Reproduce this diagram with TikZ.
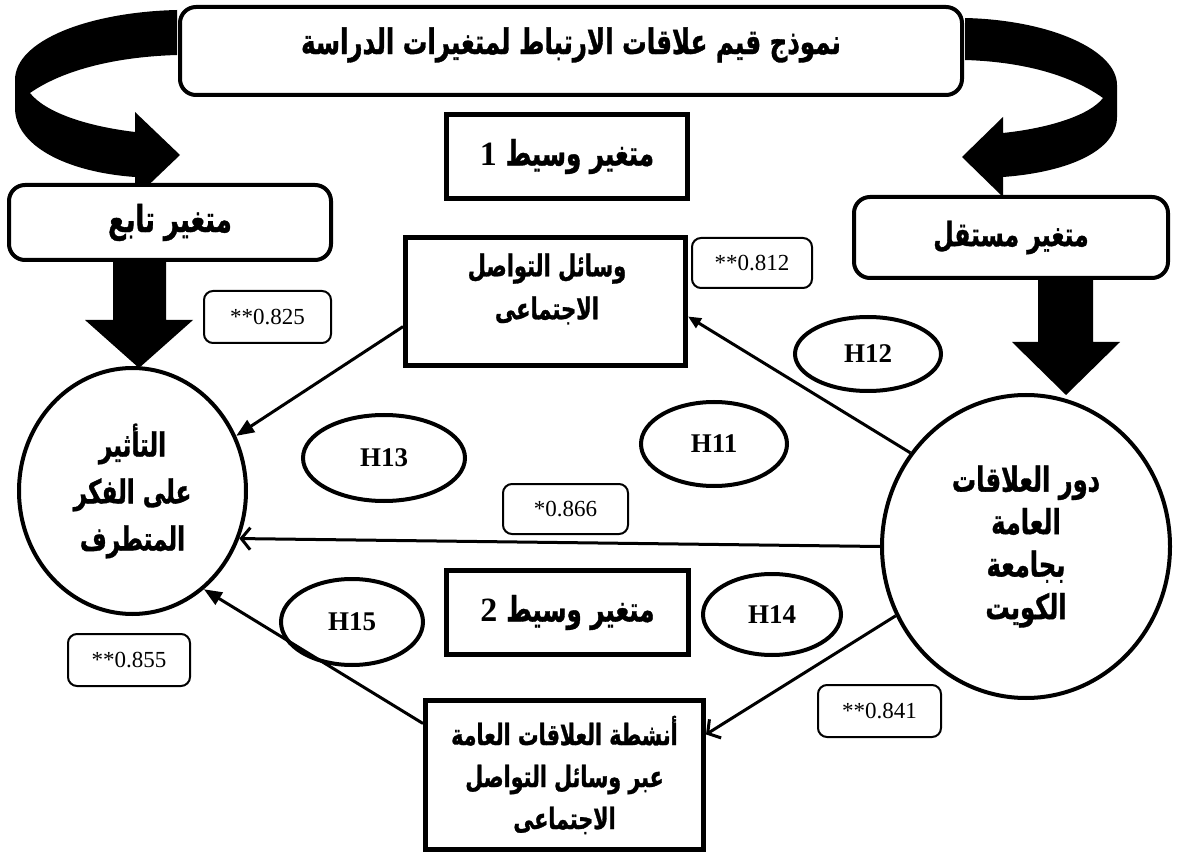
\documentclass[tikz,border=0pt]{standalone}
\usepackage{fontspec}
\setmainfont{Liberation Serif}
\newfontfamily\arabicfont[Script=Arabic,FakeStretch=0.70,BoldFeatures={FakeBold=1}]{DejaVu Sans}
\TeXXeTstate=1
\usetikzlibrary{arrows.meta,shapes.geometric}
\newcommand{\ar}[1]{{\arabicfont\bfseries\beginR #1\endR}}
\newcommand{\dg}[1]{{\fontsize{34}{34}\selectfont\bfseries #1}}
\newcommand{\fs}[2]{\fontsize{#1}{#2}\selectfont}
\begin{document}
\begin{tikzpicture}[x=1pt,y=-1pt,
  rbox/.style={draw, line width=4pt, rounded corners=16pt, fill=white, inner sep=0pt},
  sbox/.style={draw, line width=5pt, fill=white, inner sep=0pt, align=center},
  nbox/.style={draw, line width=2pt, rounded corners=9pt, fill=white, inner sep=0pt, font=\fs{23}{26}},
  hyp/.style={draw, ellipse, line width=4pt, fill=white, inner sep=0pt, font=\fs{27}{30}\bfseries},
  circ/.style={draw, ellipse, line width=4pt, fill=white, inner sep=0pt, align=center},
  lbl/.style={inner sep=0pt, align=center},
  link/.style={line width=3pt},
  fhead/.style={-{Triangle[length=18pt,width=14pt]}},
  shead/.style={-{Triangle[length=13pt,width=11pt]}},
  ohead/.style={-{Straight Barb[length=9pt,width=22pt]}}
]
\useasboundingbox (0,0) rectangle (1181,858);

% curved arrows
\fill (177,10) .. controls (90,12) and (15,40) .. (15,80) -- (15,108)
  .. controls (15,145) and (65,172) .. (135,177) -- (135,198) -- (180,155) -- (135,112) -- (135,132)
  .. controls (85,126) and (45,112) .. (30,93) .. controls (60,72) and (110,57) .. (177,55) -- cycle;
\fill (965,18) .. controls (1050,20) and (1117,50) .. (1117,85) -- (1117,117)
  .. controls (1117,150) and (1070,172) .. (1003,177) -- (1003,197) -- (962,157) -- (1003,117) -- (1003,133)
  .. controls (1050,128) and (1090,115) .. (1103,98) .. controls (1075,78) and (1030,62) .. (965,60) -- cycle;

% thick down arrows
\fill (113,258) -- (166,258) -- (166,320) -- (193,320) -- (139,368) -- (85,320) -- (113,320) -- cycle;
\fill (1038,276) -- (1093,276) -- (1093,342) -- (1120,342) -- (1066,395) -- (1012,342) -- (1038,342) -- cycle;

% boxes
\node[rbox, minimum width=782pt, minimum height=88pt] (top) at (571,51) {};
\node[lbl, font=\fs{35}{38}] (toptext) at (571,45) {\ar{نموذج قيم علاقات الارتباط لمتغيرات الدراسة}};
\node[sbox, minimum width=241pt, minimum height=84pt, font=\fs{35}{38}] (vas1) at (567,156.5) {\dg{1}\ \ar{متغير وسيط}};
\node[rbox, minimum width=322pt, minimum height=75pt, font=\fs{37}{40}] (tabe) at (170,222.5) {\ar{متغير تابع}};
\node[rbox, minimum width=314pt, minimum height=81pt, font=\fs{33.5}{36}] (mustaqil) at (1011,237.5) {\ar{متغير مستقل}};

\node[sbox, minimum width=280pt, minimum height=128pt] (wasail) at (545.5,301.5) {};
\node[lbl, font=\fs{30}{43}] (wasailtext) at (547,289) {\ar{وسائل التواصل}\\\ar{الاجتماعى}};

\node[nbox, minimum width=120pt, minimum height=50pt] (n812) at (752,263) {**0.812};
\node[nbox, minimum width=127pt, minimum height=52pt] (n825) at (267.5,317) {**0.825};
\node[nbox, minimum width=125pt, minimum height=50pt] (n866) at (565.5,509) {*0.866};
\node[nbox, minimum width=122pt, minimum height=52pt] (n855) at (129,660) {**0.855};
\node[nbox, minimum width=123pt, minimum height=52pt] (n841) at (879.5,711) {**0.841};

\node[hyp, minimum width=146pt, minimum height=74pt] (H12) at (868,354) {H12};
\node[hyp, minimum width=146pt, minimum height=84pt] (H11) at (714,444) {H11};
\node[hyp, minimum width=162pt, minimum height=86pt] (H13) at (384,458) {H13};
\node[hyp, minimum width=142pt, minimum height=86pt] (H15) at (352,622) {H15};
\node[hyp, minimum width=138pt, minimum height=81pt] (H14) at (772,614.5) {H14};

\node[sbox, minimum width=242pt, minimum height=84pt, font=\fs{35}{38}] (vas2) at (567.5,612.5) {\dg{2}\ \ar{متغير وسيط}};
\node[sbox, minimum width=278pt, minimum height=149pt, font=\fs{29.5}{42}] (anshita) at (564.5,775) {\ar{أنشطة العلاقات العامة}\\\ar{عبر وسائل التواصل}\\\ar{الاجتماعى}};

\node[circ, minimum width=227pt, minimum height=246pt, font=\fs{33}{47}] (L) at (132.5,491) {\ar{التأثير}\\\ar{على الفكر}\\\ar{المتطرف}};
\node[circ, minimum width=288pt, minimum height=303pt, font=\fs{34.5}{42.5}] (R) at (1026,546.5) {\ar{دور العلاقات}\\\ar{العامة}\\\ar{بجامعة}\\\ar{الكويت}};

% connectors
\draw[link, fhead] (wasail.190) -- (L.28.5);
\draw[link, shead] (R.141) -- (wasail.-6);
\draw[link, ohead] (R.180.6) -- (L.-24);
\draw[link, ohead] (R.208) -- (anshita.16.5);
\draw[link, fhead] (anshita.160) -- (L.-54);
\end{tikzpicture}
\end{document}
